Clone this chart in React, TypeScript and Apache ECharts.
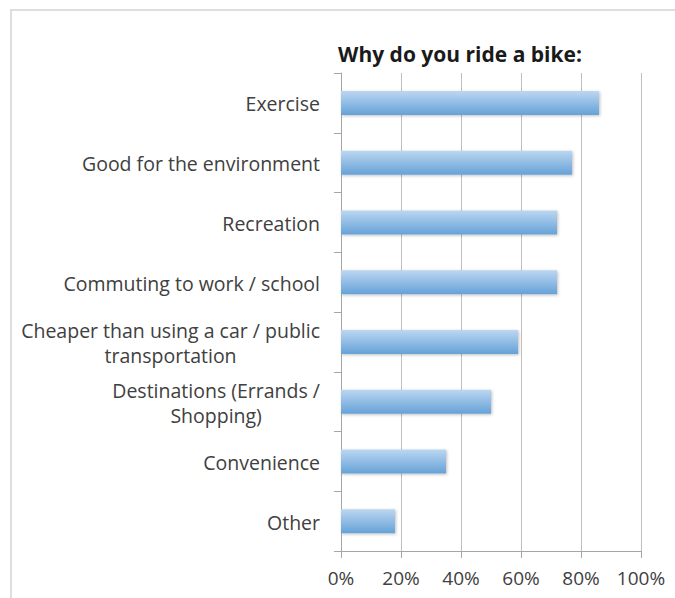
import React, { useEffect, useRef } from "react";
import * as echarts from "echarts";

const categories = [
  "Exercise",
  "Good for the environment",
  "Recreation",
  "Commuting to work / school",
  "Cheaper than using a car / public\ntransportation",
  "Destinations (Errands /\nShopping)",
  "Convenience",
  "Other",
];
const values = [86, 77, 72, 72, 59, 50, 35, 18];
const xTicks = [0, 20, 40, 60, 80, 100];
const title = "Why do you ride a bike:";

export default function App() {
  const ref = useRef<HTMLDivElement>(null);
  useEffect(() => {
    if (!ref.current) return;
    const chart = echarts.init(ref.current, null, { renderer: "svg" });
    const font = "'Open Sans', Lato, sans-serif";
    chart.setOption({
      animation: false,
      backgroundColor: "#ffffff",
      title: {
        text: title,
        left: 455,
        top: 38,
        textAlign: "center",
        textStyle: { fontFamily: font, fontWeight: "bold", fontSize: 21, color: "#1a1a1a" },
      },
      graphic: [
        {
          type: "rect",
          shape: { x: 11, y: 10, width: 800, height: 800 },
          style: { fill: "none", stroke: "#d4d4d4", lineWidth: 1.5 },
          silent: true,
        },
      ],
      grid: { left: 341, right: 34, top: 73, bottom: 47, containLabel: false },
      xAxis: {
        type: "value",
        min: xTicks[0],
        max: xTicks[xTicks.length - 1],
        interval: 20,
        axisLine: { show: true, lineStyle: { color: "#a6a6a6", width: 1 } },
        axisTick: { show: true, length: 7, lineStyle: { color: "#a6a6a6" } },
        splitLine: { show: true, lineStyle: { color: "#bfbfbf", width: 1 } },
        axisLabel: {
          formatter: "{value}%",
          margin: 17,
          fontFamily: font,
          fontSize: 19,
          color: "#404040",
        },
      },
      yAxis: {
        type: "category",
        inverse: true,
        data: categories,
        axisLine: { show: true, lineStyle: { color: "#a6a6a6", width: 1 } },
        axisTick: { show: true, length: 7, lineStyle: { color: "#a6a6a6" } },
        axisLabel: {
          margin: 21,
          formatter: (v: string) => v.split("\n").map((l) => `{c|${l}}`).join("\n"),
          rich: {
            c: {
              align: "center",
              fontFamily: font,
              fontSize: 19.5,
              color: "#404040",
              lineHeight: 25,
              padding: [2, 0, 0, 0],
            },
          },
        },
      },
      series: [
        {
          type: "bar",
          data: values,
          barWidth: 24,
          itemStyle: {
            color: new echarts.graphic.LinearGradient(0, 0, 0, 1, [
              { offset: 0, color: "#bcd7f1" },
              { offset: 1, color: "#66a2d8" },
            ]),
            shadowBlur: 3,
            shadowColor: "rgba(0,0,0,0.25)",
            shadowOffsetX: 1,
            shadowOffsetY: 1,
          },
        },
      ],
    });
    return () => chart.dispose();
  }, []);
  return (
    <div
      ref={ref}
      style={{ position: "fixed", left: 0, top: 0, width: 675, height: 598 }}
    />
  );
}
